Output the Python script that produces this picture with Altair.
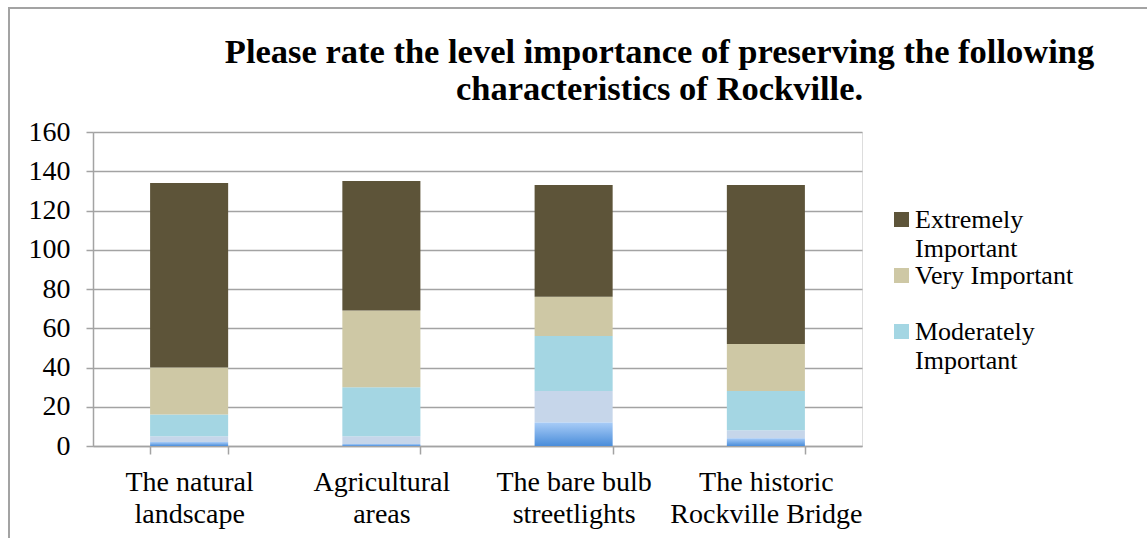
import altair as alt
import pandas as pd

# ---- data ----
categories = ["The natural landscape", "Agricultural areas",
              "The bare bulb streetlights", "The historic Rockville Bridge"]
x_label_lines = [["The natural", "landscape"], ["Agricultural", "areas"],
                 ["The bare bulb", "streetlights"], ["The historic", "Rockville Bridge"]]

levels = ["Not Important", "Slightly Important", "Moderately Important",
          "Very Important", "Extremely Important"]
not_important = [2, 1, 12, 4]
slightly_important = [3, 4, 16, 4]
moderately_important = [11, 25, 28, 20]
very_important = [24, 39, 20, 24]
extremely_important = [94, 66, 57, 81]

legend_levels = ["Extremely Important", "Very Important", "Moderately Important"]
legend_label_lines = [["Extremely", "Important"], ["Very Important", ""],
                      ["Moderately", "Important"]]

title_lines = ["Please rate the level importance of preserving the following",
               "characteristics of Rockville."]
y_ticks = [0, 20, 40, 60, 80, 100, 120, 140, 160]

# ---- build long table with stacked extents ----
series = [not_important, slightly_important, moderately_important,
          very_important, extremely_important]
rows = []
for i, cat in enumerate(categories):
    base = 0
    for lev, vals in zip(levels, series):
        rows.append({"category": cat, "level": lev, "value": vals[i],
                     "start": base, "end": base + vals[i]})
        base += vals[i]
df = pd.DataFrame(rows)

FONT = "Liberation Serif"
FS = 28
LEG_FS = 26
GRAY = "#A3A3A3"

def arr(lines):
    return "[" + ",".join("'" + s + "'" for s in lines) + "]"

x_expr = " : ".join(f"datum.value == '{c}' ? {arr(l)}" for c, l in zip(categories, x_label_lines)) + " : datum.label"
leg_expr = " : ".join(f"datum.value == '{c}' ? {arr(l)}" for c, l in zip(legend_levels, legend_label_lines)) + " : datum.label"

x_enc = alt.X("category:N", sort=categories, title=None,
              scale=alt.Scale(paddingInner=0.594, paddingOuter=0.297),
              axis=alt.Axis(labelAngle=0, labelExpr=x_expr, labelFont=FONT,
                            labelFontSize=FS, labelColor="#000000",
                            labelLineHeight=32, labelPadding=14,
                            tickBand="extent", tickSize=8, tickColor=GRAY,
                            tickWidth=1.5, domainColor=GRAY, domainWidth=1.5,
                            labelLimit=400))
y_enc = alt.Y("start:Q", title=None,
              scale=alt.Scale(domain=[0, 160], nice=False),
              axis=alt.Axis(values=y_ticks, tickCount=len(y_ticks),
                            labelFont=FONT, labelFontSize=FS,
                            labelColor="#000000", labelPadding=16,
                            labelOverlap=False,
                            tickSize=7, tickColor=GRAY, tickWidth=1.5,
                            domainColor=GRAY, domainWidth=1.5,
                            gridColor=GRAY, gridWidth=1.5))

main = alt.Chart(df).transform_filter(
    alt.datum.level != "Not Important"
).mark_bar().encode(
    x=x_enc,
    y=y_enc,
    y2="end:Q",
    color=alt.Color("level:N",
                    scale=alt.Scale(domain=["Extremely Important", "Very Important",
                                            "Moderately Important", "Slightly Important"],
                                    range=["#5D5439", "#CEC8A5", "#A4D6E3", "#C6D6EA"]),
                    legend=alt.Legend(values=legend_levels, title=None,
                                      orient="none", legendX=795.5, legendY=74.5,
                                      labelExpr=leg_expr, labelFont=FONT,
                                      labelFontSize=LEG_FS,
                                      labelBaseline="middle", labelColor="#000000",
                                      labelLimit=400, labelOffset=0.5,
                                      symbolType="square",
                                      symbolSize=225, symbolStrokeWidth=0,
                                      rowPadding=0)),
)

bottom = alt.Chart(df).transform_filter(
    alt.datum.level == "Not Important"
).mark_bar(color=alt.Gradient(
    gradient="linear",
    stops=[alt.GradientStop(color="#A8CCF7", offset=0),
           alt.GradientStop(color="#4A8DDA", offset=1)],
    x1=0, x2=0, y1=0, y2=1)).encode(
    x=x_enc,
    y=y_enc,
    y2="end:Q",
)

frame = alt.Chart(pd.DataFrame({"k": [0]})).mark_rect(
    fillOpacity=0, stroke=GRAY, strokeWidth=2
).encode(x=alt.value(-84), x2=alt.value(1070), y=alt.value(-124), y2=alt.value(420))

chart = alt.layer(frame, main, bottom).properties(
    width=769, height=314,
    padding={"left": 93, "top": 132, "right": 285, "bottom": 92},
    autosize=alt.AutoSizeParams(type="none"),
    title=alt.TitleParams(text=title_lines, font=FONT, fontSize=34.5,
                          fontWeight="bold", color="#000000", anchor="middle",
                          frame="group", dx=182, offset=-100, lineHeight=37),
).configure_view(stroke=None).configure(
    background="white",
    style={"guide-label": {"lineHeight": 29.5}},
)

chart.save("out.html", embed_options={"renderer": "svg", "actions": False})
